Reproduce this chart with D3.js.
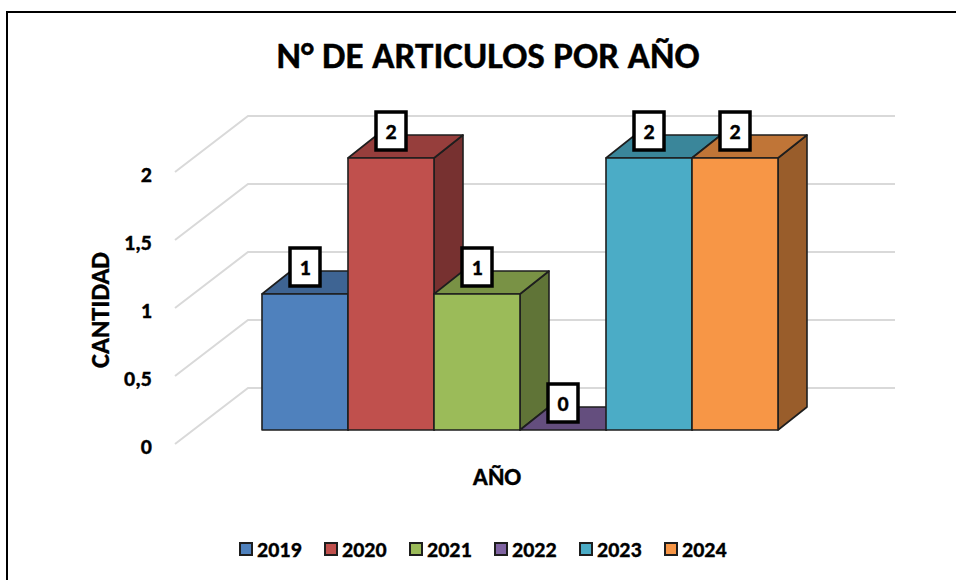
<!DOCTYPE html>
<html>
<head>
<meta charset="utf-8">
<script src="https://cdn.jsdelivr.net/npm/d3@7"></script>
<style>
  html, body { margin: 0; padding: 0; background: #fff; }
  svg { display: block; font-family: Carlito, Calibri, Lato, sans-serif; font-weight: bold; }
  svg text { fill: #000; stroke: #000; stroke-width: 0.35px; }
</style>
</head>
<body>
<div id="chart"></div>
<script>
const years = ["2019", "2020", "2021", "2022", "2023", "2024"];
const counts = [1, 2, 1, 0, 2, 2];
const yTicks = [0, 0.5, 1, 1.5, 2];
const yTickLabels = ["0", "0,5", "1", "1,5", "2"];
const colors = ["#4F81BD", "#C0504D", "#9BBB59", "#8064A2", "#4BACC6", "#F79646"];

(function () {
  "use strict";

  const W = 956, H = 580;

  // 1. Fake 3D projection (Excel-like): floor depth and bar placement inside it
  const wallDX = 73, wallDY = -56;        // full floor depth
  const barFrontDY = -14;                  // bar front plane sits inside the floor
  const barDX = 29, barDY = -23;           // bar depth
  const axisX = 175, wallRight = 895;

  const y = d3.scaleLinear().domain([0, 2]).range([444, 172]);
  const x = d3.scaleBand().domain(years).range([262, 778]).padding(0);

  const rows = years.map((yr, i) => ({ year: yr, value: counts[i], color: colors[i] }));

  const svg = d3.select("#chart").append("svg")
    .attr("width", W)
    .attr("height", H);

  svg.append("rect")
    .attr("width", W).attr("height", H).attr("fill", "#fff");

  // outer chart border (runs off the right / bottom edge)
  svg.append("rect")
    .attr("x", 7).attr("y", 12)
    .attr("width", W + 20).attr("height", H + 20)
    .attr("fill", "none").attr("stroke", "#000").attr("stroke-width", 2);

  // 2. Title
  svg.append("text")
    .attr("x", 488).attr("y", 68)
    .attr("text-anchor", "middle")
    .attr("font-size", 37)
    .attr("textLength", 423)
    .attr("lengthAdjust", "spacingAndGlyphs")
    .text("N° DE ARTICULOS POR AÑO");

  // 3. Gridlines: side wall diagonal + back wall horizontal
  const line = d3.line();
  svg.append("g")
    .selectAll("path")
    .data(yTicks)
    .join("path")
    .attr("d", v => line([
      [axisX, y(v)],
      [axisX + wallDX, y(v) + wallDY],
      [wallRight, y(v) + wallDY]
    ]))
    .attr("fill", "none")
    .attr("stroke", "#d9d9d9")
    .attr("stroke-width", 2);

  // y tick labels
  svg.append("g")
    .selectAll("text")
    .data(yTicks)
    .join("text")
    .attr("x", 152)
    .attr("y", v => y(v) + 2)
    .attr("dy", "0.35em")
    .attr("text-anchor", "end")
    .attr("font-size", 22)
    .text((v, i) => yTickLabels[i]);

  // axis titles
  svg.append("text")
    .attr("transform", "translate(99,310) rotate(-90)")
    .attr("text-anchor", "middle")
    .attr("dy", "0.36em")
    .attr("font-size", 27)
    .attr("textLength", 116)
    .attr("lengthAdjust", "spacingAndGlyphs")
    .text("CANTIDAD");

  svg.append("text")
    .attr("x", 497).attr("y", 485)
    .attr("text-anchor", "middle")
    .attr("font-size", 25)
    .text("AÑO");

  // 4. Bars (left to right so each front hides the previous side face)
  const base = y(0) + barFrontDY;
  const bw = x.bandwidth();
  const shade = (c, k) => d3.rgb(c).darker(k).formatHex();

  const bars = svg.append("g")
    .selectAll("g")
    .data(rows)
    .join("g");

  bars.each(function (d) {
    const g = d3.select(this);
    const x0 = x(d.year);
    const x1 = x0 + bw;
    const top = y(d.value) + barFrontDY;

    g.append("path")
      .attr("d", line([[x1, top], [x1 + barDX, top + barDY], [x1 + barDX, base + barDY], [x1, base]]) + "Z")
      .attr("fill", shade(d.color, 1.35));
    g.append("path")
      .attr("d", line([[x0, top], [x0 + barDX, top + barDY], [x1 + barDX, top + barDY], [x1, top]]) + "Z")
      .attr("fill", shade(d.color, 0.7));
    g.append("rect")
      .attr("x", x0).attr("y", top)
      .attr("width", bw).attr("height", base - top)
      .attr("fill", d.color);

    g.selectAll("path, rect")
      .attr("stroke", "#1e1e1e")
      .attr("stroke-width", 1.6)
      .attr("stroke-linejoin", "round");
  });

  // 5. Data labels in white boxes
  const labels = svg.append("g")
    .selectAll("g")
    .data(rows)
    .join("g")
    .attr("transform", d => `translate(${x(d.year) + bw / 2},${y(d.value) + barFrontDY - 27})`);

  labels.append("rect")
    .attr("x", -15).attr("y", -19)
    .attr("width", 30).attr("height", 38)
    .attr("fill", "#fff")
    .attr("stroke", "#000")
    .attr("stroke-width", 3.5);

  labels.append("text")
    .attr("text-anchor", "middle")
    .attr("dy", "0.36em")
    .attr("font-size", 22)
    .text(d => d.value);

  // 6. Legend
  const legend = svg.append("g")
    .attr("transform", "translate(240,549)");

  const item = legend.selectAll("g")
    .data(rows)
    .join("g")
    .attr("transform", (d, i) => `translate(${i * 85},0)`);

  item.append("rect")
    .attr("x", 0).attr("y", -6)
    .attr("width", 12).attr("height", 12)
    .attr("fill", d => d.color)
    .attr("stroke", "#1e1e1e")
    .attr("stroke-width", 2);

  item.append("text")
    .attr("x", 17)
    .attr("dy", "0.36em")
    .attr("font-size", 22)
    .text(d => d.year);
})();
</script>
</body>
</html>
